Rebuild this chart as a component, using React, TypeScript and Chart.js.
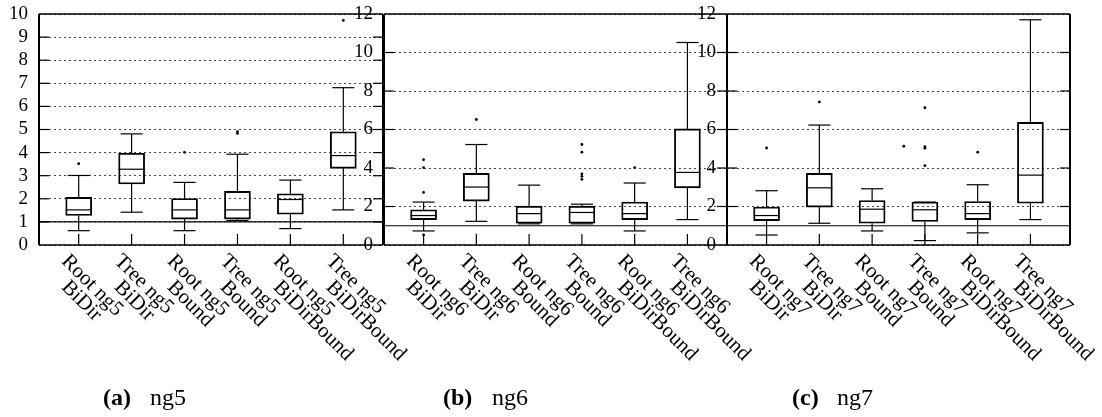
import React, { useEffect, useRef } from "react";
import { Chart, registerables } from "chart.js";

Chart.register(...registerables);

// ---------- data ----------
const NG5_LABELS = [
  ["Root ng5", "BiDir"],
  ["Tree ng5", "BiDir"],
  ["Root ng5", "Bound"],
  ["Tree ng5", "Bound"],
  ["Root ng5", "BiDirBound"],
  ["Tree ng5", "BiDirBound"],
];
const NG5_WHISKER_LOW = [0.62, 1.42, 0.62, 1.06, 0.71, 1.52];
const NG5_Q1 = [1.28, 2.64, 1.12, 1.12, 1.33, 3.32];
const NG5_MEDIAN = [1.52, 3.28, 1.52, 1.52, 1.97, 3.87];
const NG5_Q3 = [2.06, 3.97, 2.01, 2.32, 2.22, 4.9];
const NG5_WHISKER_HIGH = [3.01, 4.81, 2.71, 3.93, 2.81, 6.81];
const NG5_OUTLIERS = [[3.52], [], [4.01], [4.91, 4.83], [], [9.72]];
const NG5_EXTRA_POINTS: { x: number; y: number }[] = [];
const NG5_Y_TICKS = [0, 1, 2, 3, 4, 5, 6, 7, 8, 9, 10];

const NG6_LABELS = [
  ["Root ng6", "BiDir"],
  ["Tree ng6", "BiDir"],
  ["Root ng6", "Bound"],
  ["Tree ng6", "Bound"],
  ["Root ng6", "BiDirBound"],
  ["Tree ng6", "BiDirBound"],
];
const NG6_WHISKER_LOW = [0.73, 1.23, 1.1, 1.1, 0.73, 1.32];
const NG6_Q1 = [1.32, 2.28, 1.13, 1.13, 1.32, 2.97];
const NG6_MEDIAN = [1.53, 3.01, 1.63, 1.69, 1.63, 3.77];
const NG6_Q3 = [1.83, 3.72, 2.02, 2.02, 2.23, 6.03];
const NG6_WHISKER_HIGH = [2.23, 5.22, 3.11, 2.12, 3.22, 10.52];
const NG6_OUTLIERS = [[4.43, 4.02, 2.73, 0.52], [6.52], [], [5.22, 4.82, 3.7, 3.57, 3.41], [4.02], []];
const NG6_EXTRA_POINTS: { x: number; y: number }[] = [];
const NG6_Y_TICKS = [0, 2, 4, 6, 8, 10, 12];

const NG7_LABELS = [
  ["Root ng7", "BiDir"],
  ["Tree ng7", "BiDir"],
  ["Root ng7", "Bound"],
  ["Tree ng7", "Bound"],
  ["Root ng7", "BiDirBound"],
  ["Tree ng7", "BiDirBound"],
];
const NG7_WHISKER_LOW = [0.52, 1.13, 0.73, 0.23, 0.63, 1.32];
const NG7_Q1 = [1.27, 1.97, 1.13, 1.22, 1.32, 2.17];
const NG7_MEDIAN = [1.53, 2.97, 1.86, 1.83, 1.63, 3.63];
const NG7_Q3 = [1.97, 3.72, 2.31, 2.23, 2.26, 6.37];
const NG7_WHISKER_HIGH = [2.82, 6.23, 2.92, 2.23, 3.13, 11.7];
const NG7_OUTLIERS = [[5.04], [7.43], [], [7.13, 5.11, 5.03, 4.12], [4.82], []];
const NG7_EXTRA_POINTS = [{ x: 2.6, y: 5.13 }];
const NG7_Y_TICKS = [0, 2, 4, 6, 8, 10, 12];

const REFERENCE_VALUE = 1;

const FONT = "'Liberation Serif', 'Times New Roman', serif";

type Panel = {
  key: string;
  labels: string[][];
  lo: number[];
  q1: number[];
  med: number[];
  q3: number[];
  hi: number[];
  outliers: number[][];
  extra: { x: number; y: number }[];
  yTicks: number[];
  padLeft: number;
  axisWidth: number;
  padRight: number;
  captionTag: string;
  captionText: string;
  captionTagX: number;
  captionTextX: number;
};

const PANELS: Panel[] = [
  {
    key: "a", labels: NG5_LABELS, lo: NG5_WHISKER_LOW, q1: NG5_Q1, med: NG5_MEDIAN, q3: NG5_Q3,
    hi: NG5_WHISKER_HIGH, outliers: NG5_OUTLIERS, extra: NG5_EXTRA_POINTS, yTicks: NG5_Y_TICKS,
    padLeft: 0, axisWidth: 39, padRight: 719,
    captionTag: "(a)", captionText: "ng5", captionTagX: 103, captionTextX: 150,
  },
  {
    key: "b", labels: NG6_LABELS, lo: NG6_WHISKER_LOW, q1: NG6_Q1, med: NG6_MEDIAN, q3: NG6_Q3,
    hi: NG6_WHISKER_HIGH, outliers: NG6_OUTLIERS, extra: NG6_EXTRA_POINTS, yTicks: NG6_Y_TICKS,
    padLeft: 340, axisWidth: 44, padRight: 375,
    captionTag: "(b)", captionText: "ng6", captionTagX: 443, captionTextX: 492,
  },
  {
    key: "c", labels: NG7_LABELS, lo: NG7_WHISKER_LOW, q1: NG7_Q1, med: NG7_MEDIAN, q3: NG7_Q3,
    hi: NG7_WHISKER_HIGH, outliers: NG7_OUTLIERS, extra: NG7_EXTRA_POINTS, yTicks: NG7_Y_TICKS,
    padLeft: 684, axisWidth: 43, padRight: 32,
    captionTag: "(c)", captionText: "ng7", captionTagX: 792, captionTextX: 837,
  },
];

const boxDecorPlugin = {
  id: "boxDecor",
  afterDatasetsDraw(chart: any, _args: any, opts: any) {
    const p: Panel = opts.panel;
    const { ctx, chartArea: a } = chart;
    const x = chart.scales.x;
    const y = chart.scales.y;
    const barMeta = chart.getDatasetMeta(0);
    const line = (x1: number, y1: number, x2: number, y2: number) => {
      ctx.beginPath();
      ctx.moveTo(x1, y1);
      ctx.lineTo(x2, y2);
      ctx.stroke();
    };
    ctx.save();
    ctx.strokeStyle = "#000";
    ctx.lineWidth = 1.2;
    ctx.setLineDash([]);

    // reference line
    const yr = y.getPixelForValue(REFERENCE_VALUE);
    line(a.left, yr, a.right, yr);

    // whiskers + medians
    p.labels.forEach((_l, i) => {
      const bar = barMeta.data[i];
      const cx = bar.x;
      const half = bar.width / 2;
      const capHalf = half * 0.85;
      const yLo = y.getPixelForValue(p.lo[i]);
      const yQ1 = y.getPixelForValue(p.q1[i]);
      const yQ3 = y.getPixelForValue(p.q3[i]);
      const yHi = y.getPixelForValue(p.hi[i]);
      const yMed = y.getPixelForValue(p.med[i]);
      line(cx, yQ3, cx, yHi);
      line(cx - capHalf, yHi, cx + capHalf, yHi);
      line(cx, yQ1, cx, yLo);
      line(cx - capHalf, yLo, cx + capHalf, yLo);
      line(cx - half, yMed, cx + half, yMed);
    });

    // inner y ticks (both sides)
    y.ticks.forEach((t: any) => {
      if (t.value <= y.min || t.value >= y.max) return;
      const py = y.getPixelForValue(t.value);
      line(a.left, py, a.left + 10, py);
      line(a.right - 10, py, a.right, py);
    });

    // bottom x ticks
    p.labels.forEach((_l, i) => {
      const px = x.getPixelForValue(i);
      line(px, a.bottom, px, a.bottom - 11);
    });

    // frame
    ctx.lineWidth = 1.3;
    line(a.left, a.top, a.right, a.top);
    line(a.left, a.bottom, a.right, a.bottom);
    ctx.lineWidth = 2;
    line(a.left, a.top, a.left, a.bottom);
    line(a.right, a.top, a.right, a.bottom);

    // rotated category labels
    ctx.fillStyle = "#000";
    ctx.font = `21px ${FONT}`;
    ctx.textAlign = "left";
    ctx.textBaseline = "alphabetic";
    p.labels.forEach((lines, i) => {
      const px = x.getPixelForValue(i);
      lines.forEach((s, k) => {
        ctx.save();
        ctx.translate(px - 18, a.bottom + 17 + k * 26);
        ctx.rotate(Math.PI / 4);
        ctx.fillText(s, 0, 0);
        ctx.restore();
      });
    });

    // caption
    ctx.font = `bold 24px ${FONT}`;
    ctx.fillText(p.captionTag, p.captionTagX, 405);
    ctx.font = `24px ${FONT}`;
    ctx.fillText(p.captionText, p.captionTextX, 405);

    ctx.restore();
  },
};

function BoxPanel({ panel }: { panel: Panel }) {
  const ref = useRef<HTMLCanvasElement>(null);
  useEffect(() => {
    const canvas = ref.current;
    if (!canvas) return;
    const n = panel.labels.length;
    const boxData = panel.labels.map((_l, i) => ({ x: i, y: [panel.q1[i], panel.q3[i]] }));
    const outlierData = panel.outliers
      .flatMap((vals, i) => vals.map((v) => ({ x: i, y: v })))
      .concat(panel.extra);
    const yMin = panel.yTicks[0];
    const yMax = panel.yTicks[panel.yTicks.length - 1];
    const step = panel.yTicks[1] - panel.yTicks[0];
    const chart = new Chart(canvas, {
      type: "bar",
      data: {
        datasets: [
          {
            type: "bar",
            data: boxData as any,
            backgroundColor: "rgba(0,0,0,0)",
            borderColor: "#000",
            borderWidth: 1.2,
            borderSkipped: false,
            barThickness: 26,
          } as any,
          {
            type: "scatter",
            data: outlierData,
            pointRadius: 1.4,
            pointBackgroundColor: "#000",
            pointBorderWidth: 0,
            showLine: false,
          } as any,
        ],
      },
      options: {
        responsive: false,
        animation: false,
        events: [],
        layout: { padding: { left: panel.padLeft, right: panel.padRight, top: 14, bottom: 172 } },
        plugins: {
          legend: { display: false },
          tooltip: { enabled: false },
          boxDecor: { panel },
        } as any,
        scales: {
          x: {
            type: "linear",
            min: -0.75,
            max: n - 0.25,
            offset: false,
            display: false,
          },
          y: {
            type: "linear",
            min: yMin,
            max: yMax,
            ticks: {
              stepSize: step,
              autoSkip: false,
              color: "#000",
              padding: 11,
              font: { family: FONT, size: 19 },
            },
            grid: { color: "#444", lineWidth: 1, drawTicks: false },
            border: { display: false, dash: [2, 3] },
            afterFit: (s: any) => {
              s.width = panel.axisWidth;
              s.paddingTop = 0;
              s.paddingBottom = 0;
            },
          } as any,
        },
      },
      plugins: [boxDecorPlugin],
    });
    return () => chart.destroy();
  }, [panel]);
  return (
    <canvas
      ref={ref}
      width={1102}
      height={417}
      style={{ position: "absolute", left: 0, top: 0, width: 1102, height: 417 }}
    />
  );
}

export default function App() {
  return (
    <div style={{ position: "absolute", left: 0, top: 0, width: 1102, height: 417, background: "#fff" }}>
      {PANELS.map((p) => (
        <BoxPanel key={p.key} panel={p} />
      ))}
    </div>
  );
}
